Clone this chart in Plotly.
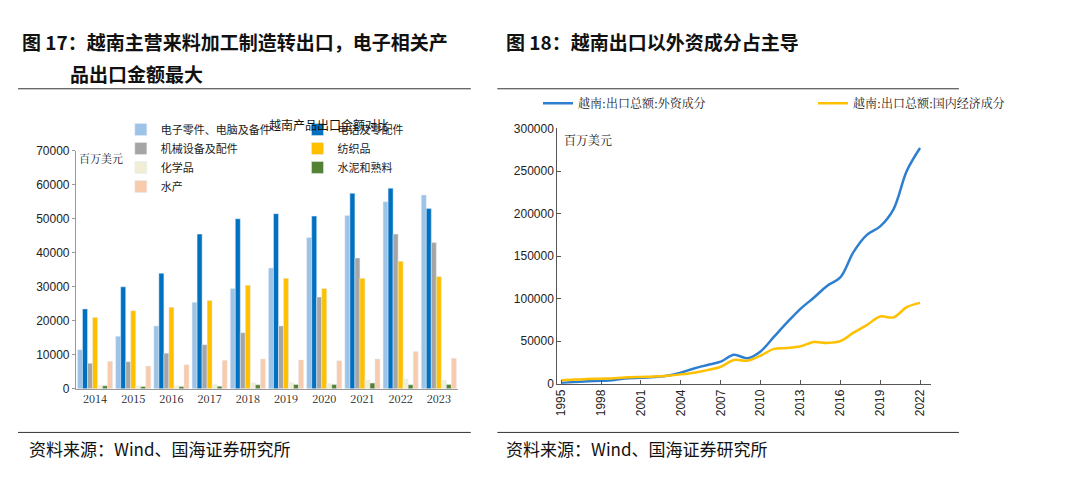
import plotly.graph_objects as go

years_bar = ["2014","2015","2016","2017","2018","2019","2020","2021","2022","2023"]
electronics = [11500,15500,18500,25500,29500,35500,44500,51000,55000,57000]
phones = [23500,30000,34000,45500,50000,51500,50800,57500,59000,53000]
machinery = [7500,8000,10500,13000,16500,18500,27000,38500,45500,43000]
textiles = [21000,23000,24000,26000,30500,32500,29500,32500,37500,33000]
chemicals = [900,900,900,1300,1800,1900,1600,2600,2900,2500]
cement = [900,700,700,800,1200,1300,1300,1700,1200,1300]
aquatic = [8100,6700,7100,8400,8800,8500,8300,8800,11000,9000]

years_line = list(range(1995, 2023))
foreign = [1000,2000,3000,3500,4500,6500,7000,8000,9500,13000,18000,22000,26000,34000,30000,38000,
           55000,72000,88000,101000,115000,125000,155000,175000,185000,205000,250000,277000]
domestic = [4000,5000,5500,6000,6500,7500,8000,8500,9500,11000,13000,16000,20000,28000,27000,33000,
            41000,42000,44000,49000,48000,50000,60000,69000,79000,78000,90000,95000]

fig = go.Figure()
bar_series = [
    ("电子零件、电脑及备件", electronics, "#9dc3e6", "legend"),
    ("电话及零配件", phones, "#0070c0", "legend2"),
    ("机械设备及配件", machinery, "#a5a5a5", "legend"),
    ("纺织品", textiles, "#ffc000", "legend2"),
    ("化学品", chemicals, "#f2eed5", "legend"),
    ("水泥和熟料", cement, "#548235", "legend2"),
    ("水产", aquatic, "#f8cbad", "legend"),
]
for name, vals, col, lg in bar_series:
    fig.add_trace(go.Bar(x=years_bar, y=vals, name=name, marker_color=col, legend=lg,
                         xaxis="x", yaxis="y"))

fig.add_trace(go.Scatter(x=years_line, y=foreign, name="越南:出口总额:外资成分", mode="lines",
                         line=dict(color="#2e7fd0", width=2.5, shape="spline"), legend="legend3",
                         xaxis="x2", yaxis="y2"))
fig.add_trace(go.Scatter(x=years_line, y=domestic, name="越南:出口总额:国内经济成分", mode="lines",
                         line=dict(color="#ffc000", width=2.5, shape="spline"), legend="legend3",
                         xaxis="x2", yaxis="y2"))

serif = "Noto Serif CJK SC, Noto Sans CJK SC, serif"
sans = "Noto Sans CJK SC, sans-serif"
fig.update_layout(
    width=1080, height=479, margin=dict(l=0, r=0, t=0, b=0),
    paper_bgcolor="white", plot_bgcolor="white", barmode="group",
    bargap=0.08, bargroupgap=0.0,
    font=dict(family=sans, color="#222"),
    xaxis=dict(domain=[0.068, 0.468], anchor="y", showline=True, linecolor="#999",
               ticks="", tickfont=dict(family=serif, size=11)),
    yaxis=dict(domain=[0.196, 0.708], anchor="x", range=[0, 70000], dtick=10000, tickformat="d",
               showline=True, linecolor="#999", ticks="outside", ticklen=3, tickcolor="#999",
               showgrid=False, tickfont=dict(family="Liberation Sans", size=12)),
    xaxis2=dict(domain=[0.572, 0.963], anchor="y2", range=[1994.7, 2022.8], tickmode="array",
                tickvals=list(range(1995, 2023, 3)), tickangle=-90, showline=True,
                linecolor="#555", ticks="inside", ticklen=4, tickcolor="#555", showgrid=False,
                tickfont=dict(family="Liberation Sans", size=12)),
    yaxis2=dict(domain=[0.207, 0.756], anchor="x2", range=[0, 300000], dtick=50000, tickformat="d",
                showline=True, linecolor="#555", ticks="inside", ticklen=4, tickcolor="#555",
                showgrid=False, tickfont=dict(family="Liberation Sans", size=12)),
    legend=dict(x=0.115, y=0.785, xanchor="left", yanchor="top", bgcolor="rgba(0,0,0,0)",
                font=dict(size=11), itemwidth=30, tracegroupgap=0, traceorder="normal"),
    legend2=dict(x=0.30, y=0.785, xanchor="left", yanchor="top", bgcolor="rgba(0,0,0,0)",
                 font=dict(size=11), itemwidth=30, traceorder="normal"),
    legend3=dict(x=0.552, y=0.81, xanchor="left", yanchor="middle", orientation="h",
                 bgcolor="rgba(0,0,0,0)", font=dict(family=serif, size=12), entrywidth=230),
)

ann = [
    dict(x=10/1080, y=1-27/479, text="<b>图 17：越南主营来料加工制造转出口，电子相关产</b>", size=19),
    dict(x=65/1080, y=1-60/479, text="<b>品出口金额最大</b>", size=19),
    dict(x=558/1080, y=1-27/479, text="<b>图 18：越南出口以外资成分占主导</b>", size=19),
    dict(x=18/1080, y=1-447/479, text="资料来源：Wind、国海证券研究所", size=17),
    dict(x=558/1080, y=1-447/479, text="资料来源：Wind、国海证券研究所", size=17),
    dict(x=75/1080, y=1-147/479, text="百万美元", size=11, fam=serif),
    dict(x=623/1080, y=1-128/479, text="百万美元", size=12, fam=serif),
]
for a in ann:
    fig.add_annotation(x=a["x"], y=a["y"], xref="paper", yref="paper", text=a["text"],
                       showarrow=False, xanchor="left", yanchor="middle",
                       font=dict(size=a["size"], family=a.get("fam", sans), color="#111"))
fig.add_annotation(x=290/1080, y=1-102/479, xref="paper", yref="paper", text="越南产品出口金额对比",
                   showarrow=False, font=dict(size=12, family=sans, color="#111"))

for x0, x1 in [(8, 520), (550, 1072)]:
    fig.add_shape(type="line", xref="paper", yref="paper", x0=x0/1080, x1=x1/1080,
                  y0=1-76/479, y1=1-76/479, line=dict(color="#333", width=1))
    fig.add_shape(type="line", xref="paper", yref="paper", x0=x0/1080, x1=x1/1080,
                  y0=1-430/479, y1=1-430/479, line=dict(color="#333", width=1))

fig.write_html("out.html")
